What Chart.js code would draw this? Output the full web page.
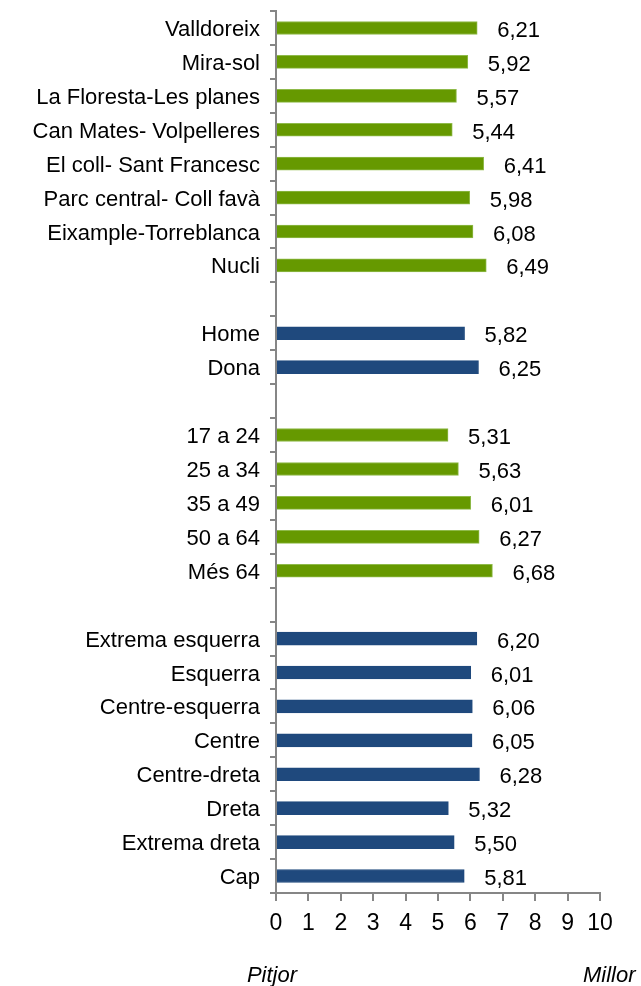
<!DOCTYPE html>
<html>
<head>
<meta charset="utf-8">
<script src="https://cdn.jsdelivr.net/npm/chart.js@4/dist/chart.umd.min.js"></script>
<style>
  html, body { margin: 0; padding: 0; background: #fff; }
  #wrap { width: 641px; height: 986px; position: relative; }
</style>
</head>
<body>
<div id="wrap"><canvas id="chart" width="641" height="986"></canvas></div>
<script>
const categories = [
  'Valldoreix', 'Mira-sol', 'La Floresta-Les planes', 'Can Mates- Volpelleres',
  'El coll- Sant Francesc', 'Parc central- Coll favà', 'Eixample-Torreblanca', 'Nucli',
  '',
  'Home', 'Dona',
  '',
  '17 a 24', '25 a 34', '35 a 49', '50 a 64', 'Més 64',
  '',
  'Extrema esquerra', 'Esquerra', 'Centre-esquerra', 'Centre', 'Centre-dreta',
  'Dreta', 'Extrema dreta', 'Cap'
];
const values = [
  6.21, 5.92, 5.57, 5.44, 6.41, 5.98, 6.08, 6.49,
  null,
  5.82, 6.25,
  null,
  5.31, 5.63, 6.01, 6.27, 6.68,
  null,
  6.20, 6.01, 6.06, 6.05, 6.28, 5.32, 5.50, 5.81
];
// which group each row belongs to (green or blue)
const groups = [
  'g','g','g','g','g','g','g','g', '',
  'b','b', '',
  'g','g','g','g','g', '',
  'b','b','b','b','b','b','b','b'
];
const xTicks = [0, 1, 2, 3, 4, 5, 6, 7, 8, 9, 10];
const endLabels = ['Pitjor', 'Millor'];

const GREEN = '#669900';
const BLUE = '#1f497d';
const AXIS = '#868686';
const FONT = "'Liberation Sans', Arial, sans-serif";

const valueLabels = {
  id: 'valueLabels',
  afterDatasetsDraw(chart) {
    const ctx = chart.ctx;
    const meta = chart.getDatasetMeta(0);
    ctx.save();
    ctx.font = '22px ' + FONT;
    ctx.fillStyle = '#000';
    ctx.textBaseline = 'middle';
    ctx.textAlign = 'left';
    meta.data.forEach((bar, i) => {
      if (values[i] == null) return;
      ctx.fillText(values[i].toFixed(2).replace('.', ','), bar.x + 20, bar.y + 3);
    });
    // Pitjor / Millor under the axis ends
    const x = chart.scales.x;
    ctx.font = 'italic 22px ' + FONT;
    ctx.textAlign = 'center';
    ctx.fillText(endLabels[0], x.getPixelForValue(0) - 4, 976);
    ctx.textAlign = 'left';
    ctx.fillText(endLabels[1], x.getPixelForValue(10) - 17, 976);
    ctx.restore();
  }
};

new Chart(document.getElementById('chart'), {
  type: 'bar',
  data: {
    labels: categories,
    datasets: [{
      data: values,
      backgroundColor: groups.map(g => g === 'b' ? BLUE : GREEN),
      borderColor: groups.map(g => g === 'b' ? BLUE : '#8fba4a'),
      borderWidth: { top: 1, bottom: 1, right: 1, left: 0 },
      borderSkipped: 'left',
      barThickness: 13
    }]
  },
  options: {
    indexAxis: 'y',
    responsive: false,
    animation: false,
    layout: { padding: { top: 11, right: 41, left: 0, bottom: 0 } },
    plugins: { legend: { display: false }, tooltip: { enabled: false } },
    scales: {
      x: {
        min: 0,
        max: 10,
        afterBuildTicks: s => { s.ticks = xTicks.map(v => ({ value: v })); },
        afterFit: s => { s.height = 93; s.paddingLeft = 0; s.paddingRight = 0; },
        border: { color: AXIS, width: 2 },
        grid: { drawOnChartArea: false, color: AXIS, tickLength: 8, lineWidth: 2 },
        ticks: { color: '#000', font: { family: FONT, size: 23 }, padding: 9, maxRotation: 0 }
      },
      y: {
        afterFit: s => { s.width = 276; s.paddingTop = 0; s.paddingBottom = 0; },
        border: { color: AXIS, width: 2 },
        grid: { drawOnChartArea: false, offset: true, color: AXIS, tickLength: 6, lineWidth: 2 },
        ticks: { color: '#000', font: { family: FONT, size: 22 }, padding: 10, autoSkip: false, labelOffset: 2 }
      }
    }
  },
  plugins: [valueLabels]
});
</script>
</body>
</html>
